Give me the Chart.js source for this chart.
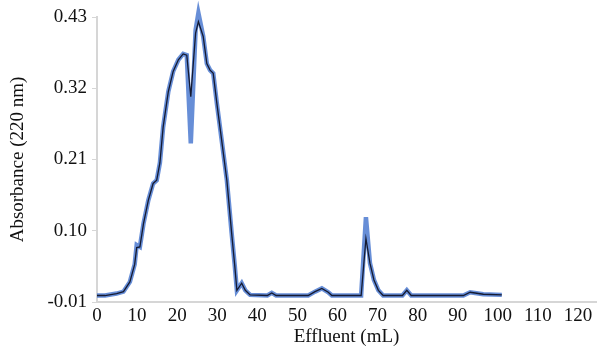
<!DOCTYPE html>
<html>
<head>
<meta charset="utf-8">
<script src="https://cdn.jsdelivr.net/npm/chart.js@4"></script>
<style>
  html, body { margin: 0; padding: 0; background: #fff; }
  #wrap { width: 598px; height: 350px; }
</style>
</head>
<body>
<div id="wrap"><canvas id="myChart" width="598" height="350"></canvas></div>
<script>
// effluent volume (mL), shared by both traces
var effluent = [0, 2, 4.9, 6.6, 8.2, 9.4, 9.9, 10.7, 11.6, 12.8, 14.0, 14.9, 15.7, 16.5, 17.8, 19.0, 20.3, 21.5, 22.4, 23.4, 24.6, 25.3, 26.5, 27.4, 28.2, 29.0, 29.9, 31.1, 32.4, 33.6, 34.4, 34.9, 36.1, 37.0, 38.2, 42.5, 43.6, 44.7, 52.7, 54.4, 56.1, 57.7, 58.6, 65.9, 67.1, 68.1, 69.1, 70.2, 71.4, 76.2, 77.3, 78.4, 91.4, 93.1, 96.4, 101.0];
// thick blue trace
var absBlue = [0, 0, 0.003, 0.006, 0.021, 0.048, 0.078, 0.075, 0.111, 0.147, 0.173, 0.178, 0.205, 0.26, 0.315, 0.346, 0.364, 0.373, 0.371, 0.235, 0.41, 0.436, 0.40, 0.358, 0.348, 0.343, 0.297, 0.24, 0.178, 0.096, 0.044, 0.008, 0.019, 0.008, 0.001, 0, 0.004, 0, 0, 0.006, 0.011, 0.005, 0, 0, 0.121, 0.05, 0.024, 0.008, 0, 0, 0.008, 0, 0, 0.005, 0.002, 0.001];
// thin dark trace
var absDark = [0, 0, 0.003, 0.006, 0.021, 0.048, 0.074, 0.075, 0.111, 0.147, 0.173, 0.178, 0.205, 0.26, 0.315, 0.346, 0.364, 0.373, 0.371, 0.307, 0.405, 0.423, 0.40, 0.358, 0.348, 0.343, 0.297, 0.24, 0.178, 0.096, 0.044, 0.008, 0.019, 0.008, 0.001, 0, 0.004, 0, 0, 0.006, 0.011, 0.005, 0, 0, 0.088, 0.05, 0.024, 0.008, 0, 0, 0.008, 0, 0, 0.005, 0.002, 0.001];
// axis ticks
var xTicks = [0, 10, 20, 30, 40, 50, 60, 70, 80, 90, 100, 110, 120];
var yTicks = [-0.01, 0.10, 0.21, 0.32, 0.43];

function toPoints(xs, ys) {
    return xs.map(function(x, i) { return {x: x, y: ys[i]}; });
}

var serif = 'Liberation Serif, Times New Roman, serif';

var ctx = document.getElementById('myChart').getContext('2d');
var myChart = new Chart(ctx, {
    type: 'line',
    data: {
        datasets: [{
            data: toPoints(effluent, absBlue),
            borderColor: 'rgba(82,126,210,0.88)',
            borderWidth: 4.5,
            pointRadius: 0,
            tension: 0,
            clip: false,
            order: 2   // drawn underneath
        }, {
            data: toPoints(effluent, absDark),
            borderColor: '#151a30',
            borderWidth: 1.3,
            pointRadius: 0,
            tension: 0,
            clip: false,
            order: 1
        }]
    },
    options: {
        responsive: false,
        animation: false,
        layout: { padding: { top: 17, right: 2, left: 0, bottom: 0 } },
        plugins: {
            legend: { display: false },
            tooltip: { enabled: false }
        },
        scales: {
            x: {
                type: 'linear',
                min: 0,
                max: 124.5,
                afterBuildTicks: function(scale) {
                    scale.ticks = xTicks.map(function(v) { return {value: v}; });
                },
                afterFit: function(scale) { scale.height = 48; },
                grid: { drawOnChartArea: false, drawTicks: false },
                border: { display: true, color: '#d6d6d6', width: 2 },
                ticks: {
                    padding: 3,
                    color: '#111',
                    font: { family: serif, size: 19 },
                    maxRotation: 0,
                    autoSkip: false
                },
                title: {
                    display: true,
                    text: 'Effluent (mL)',
                    color: '#111',
                    font: { family: serif, size: 19 },
                    padding: { top: 0, bottom: 2 }
                }
            },
            y: {
                min: -0.01,
                max: 0.43,
                afterBuildTicks: function(scale) {
                    scale.ticks = yTicks.map(function(v) { return {value: v}; });
                },
                afterFit: function(scale) { scale.width = 97; },
                grid: { drawOnChartArea: false, drawTicks: true, tickLength: 5, color: '#d6d6d6' },
                border: { display: true, color: '#d6d6d6', width: 2 },
                ticks: {
                    padding: 5,
                    color: '#111',
                    font: { family: serif, size: 19 },
                    callback: function(v) { return v.toFixed(2); }
                },
                title: {
                    display: true,
                    text: 'Absorbance (220 nm)',
                    color: '#111',
                    font: { family: serif, size: 19 },
                    padding: { top: 7, bottom: 0 }
                }
            }
        }
    }
});
</script>
</body>
</html>
